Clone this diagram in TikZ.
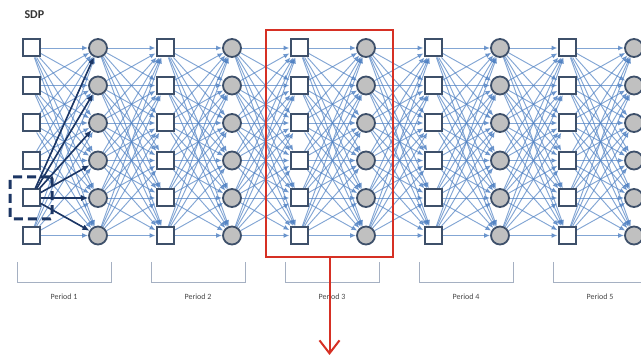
\documentclass[tikz,border=0pt]{standalone}
\usepackage{fontspec}
\setmainfont{Carlito}
\usetikzlibrary{arrows.meta,backgrounds}

\definecolor{linkblue}{RGB}{78,128,194}
\definecolor{slate}{RGB}{62,80,106}
\definecolor{navy}{RGB}{28,54,100}
\definecolor{cellgray}{RGB}{192,192,192}
\definecolor{boxred}{RGB}{214,48,36}
\definecolor{bracegray}{RGB}{165,176,194}

\tikzset{
	statebox/.style={draw=slate, fill=white, line width=2pt, minimum size=17pt, inner sep=0pt},
	outcome/.style={circle, draw=slate, fill=cellgray, line width=1.8pt, minimum size=18pt, inner sep=0pt},
	link/.style={draw=linkblue, line width=0.95pt, opacity=0.7, -{Latex[length=6pt,width=5pt]}},
	pickarrow/.style={draw=navy, line width=1.6pt, -{Latex[length=7pt,width=6pt]}},
	pickbox/.style={draw=navy, line width=3pt, dash pattern=on 9pt off 5pt, rounded corners=2pt, minimum size=42pt, inner sep=0pt},
	focusbox/.style={draw=boxred, line width=2.8pt, minimum width=127pt, minimum height=227pt, inner sep=0pt},
	periodlabel/.style={font=\fontsize{8}{10}\selectfont, text=black!72},
}

\begin{document}
\begin{tikzpicture}[x=1pt, y=-1pt]
	\useasboundingbox (0,0) rectangle (641,358);
	\node[font=\bfseries\fontsize{12}{14}\selectfont, text=black!80, anchor=west] (title) at (21,15) {SDP};

	\foreach \k in {1,...,5}{
		\foreach \r in {1,...,6}{
			\node[statebox] (s-\k-\r) at ({31+134*(\k-1)}, {48+37.5*(\r-1)}) {};
			\node[outcome] (c-\k-\r) at ({98+134*(\k-1)}, {48+37.5*(\r-1)}) {};
		}
		\draw[bracegray, line width=0.7pt] ({17+134*(\k-1)},262) -- ({17+134*(\k-1)},282) -- ({111+134*(\k-1)},282) -- ({111+134*(\k-1)},262);
		\node[periodlabel] (period-\k) at ({64+134*(\k-1)},297) {Period \k};
	}

	\begin{scope}[on background layer]
		\foreach \k in {1,...,5}
			\foreach \r in {1,...,6}
				\foreach \q in {1,...,6}
					\draw[link] (s-\k-\r) -- (c-\k-\q);
		\foreach \k [evaluate=\k as \n using int(\k+1)] in {1,...,4}
			\foreach \r in {1,...,6}
				\foreach \q in {1,...,6}
					\draw[link] (c-\k-\r) -- (s-\n-\q);
	\end{scope}

	\node[pickbox] (pick) at (s-1-5) {};
	\foreach \q in {1,...,6}
		\draw[pickarrow] (s-1-5) -- (c-1-\q);

	\node[focusbox] (focus) at (329.5,143.5) {};
	\coordinate (below) at (329.5,355);
	\draw[boxred, line width=2pt, -{Straight Barb[length=13pt,width=20pt,line width=2pt]}] (focus.south) -- (below);
\end{tikzpicture}
\end{document}
